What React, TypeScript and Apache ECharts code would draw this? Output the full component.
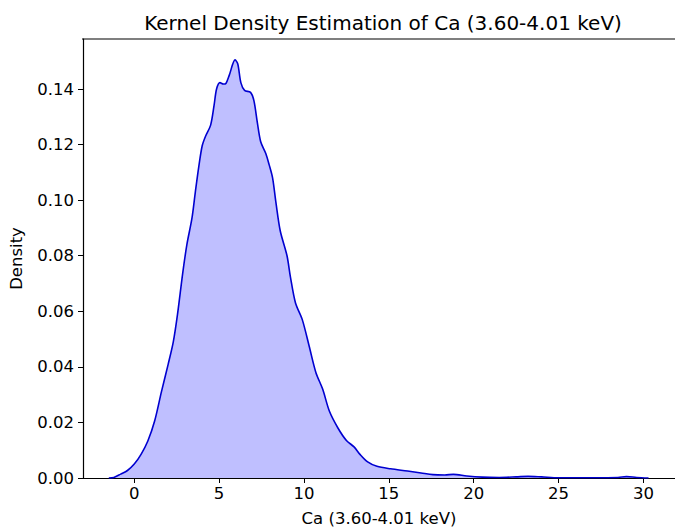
import React, { useEffect, useRef } from "react";
import * as echarts from "echarts";

// Kernel density estimate of Ca counts (3.60-4.01 keV): [value, density]
const kdeX: number[] = [
  -1.5, -1.2, -0.8, -0.4, 0, 0.4, 0.8, 1.2, 1.6, 2.0, 2.3, 2.55, 2.85, 3.1, 3.4,
  3.6, 3.8, 4.0, 4.2, 4.5, 4.7, 4.85, 5.05, 5.25, 5.4, 5.6, 5.94, 6.1, 6.28, 6.5,
  6.85, 7.05, 7.25, 7.45, 7.75, 7.95, 8.15, 8.35, 8.6, 9.0, 9.2, 9.5, 9.9, 10.3,
  10.7, 11.1, 11.5, 12.0, 12.5, 12.95, 13.3, 13.75, 14.3, 15.1, 16.1, 16.9, 17.6,
  18.3, 18.8, 19.6, 20.5, 21.5, 22.5, 23.2, 24.0, 25.0, 27.0, 28.5, 29.0, 29.6, 30.3,
];
const kdeDensity: number[] = [
  0.0, 0.0002, 0.0014, 0.0027, 0.005, 0.0085, 0.0133, 0.0205, 0.031, 0.041, 0.049,
  0.059, 0.0735, 0.084, 0.0935, 0.103, 0.112, 0.1195, 0.123, 0.127, 0.134, 0.14,
  0.1423, 0.1418, 0.142, 0.145, 0.1505, 0.149, 0.1423, 0.1395, 0.1388, 0.1358,
  0.128, 0.121, 0.1168, 0.1127, 0.108, 0.099, 0.089, 0.08, 0.0724, 0.063, 0.057,
  0.0476, 0.038, 0.032, 0.024, 0.018, 0.0135, 0.0112, 0.0085, 0.0058, 0.0042,
  0.0033, 0.0025, 0.0018, 0.0012, 0.0011, 0.0013, 0.0007, 0.0003, 0.0002, 0.0004,
  0.0006, 0.0004, 0.0001, 0.0001, 0.0002, 0.0005, 0.0002, 0.0,
];
const xTicks: number[] = [0, 5, 10, 15, 20, 25, 30];
const yTicks: number[] = [0, 0.02, 0.04, 0.06, 0.08, 0.1, 0.12, 0.14];

const FONT = "DejaVu Sans";

export default function App() {
  const ref = useRef<HTMLDivElement>(null);

  useEffect(() => {
    if (!ref.current) return;
    const chart = echarts.init(ref.current, undefined, { renderer: "svg" });
    const data = kdeX.map((x, i) => [x, kdeDensity[i]]);
    chart.setOption({
      animation: false,
      backgroundColor: "#ffffff",
      title: {
        text: "Kernel Density Estimation of Ca (3.60-4.01 keV)",
        left: 378,
        top: 8,
        textAlign: "center",
        textStyle: { fontFamily: FONT, fontSize: 20, fontWeight: "normal", color: "#000" },
      },
      grid: { left: 82, top: 39, width: 593, height: 445 },
      xAxis: {
        type: "value",
        min: -3.02,
        max: 31.86,
        name: "Ca (3.60-4.01 keV)",
        nameLocation: "middle",
        nameGap: 32,
        nameTextStyle: { fontFamily: FONT, fontSize: 16.5, color: "#000" },
        axisLine: { onZero: false, lineStyle: { color: "#000", width: 1.2 } },
        axisTick: { show: true, customValues: xTicks, length: 5, lineStyle: { color: "#000" } },
        axisLabel: {
          customValues: xTicks,
          fontFamily: FONT,
          fontSize: 16.5,
          color: "#000",
          margin: 7,
        },
        splitLine: { show: false },
      },
      yAxis: {
        type: "value",
        min: 0,
        max: 0.158,
        name: "Density",
        nameLocation: "middle",
        nameGap: 58,
        nameTextStyle: { fontFamily: FONT, fontSize: 16.5, color: "#000" },
        axisLine: { show: true, onZero: false, lineStyle: { color: "#000", width: 1.2 } },
        axisTick: { show: true, customValues: yTicks, length: 5, lineStyle: { color: "#000" } },
        axisLabel: {
          customValues: yTicks,
          fontFamily: FONT,
          fontSize: 16.5,
          color: "#000",
          margin: 9,
          formatter: (v: number) => v.toFixed(2),
        },
        splitLine: { show: false },
      },
      graphic: [
        {
          type: "line",
          shape: { x1: 82, y1: 39, x2: 675, y2: 39 },
          style: { stroke: "#000", lineWidth: 1.2 },
          z: 10,
        },
      ],
      series: [
        {
          type: "line",
          data,
          smooth: 0.3,
          showSymbol: false,
          lineStyle: { color: "#0000d0", width: 1.6 },
          areaStyle: { color: "#bfbfff", opacity: 1 },
        },
      ],
    });
    return () => chart.dispose();
  }, []);

  return (
    <div
      ref={ref}
      style={{ position: "fixed", left: 0, top: 0, width: 675, height: 532 }}
    />
  );
}
